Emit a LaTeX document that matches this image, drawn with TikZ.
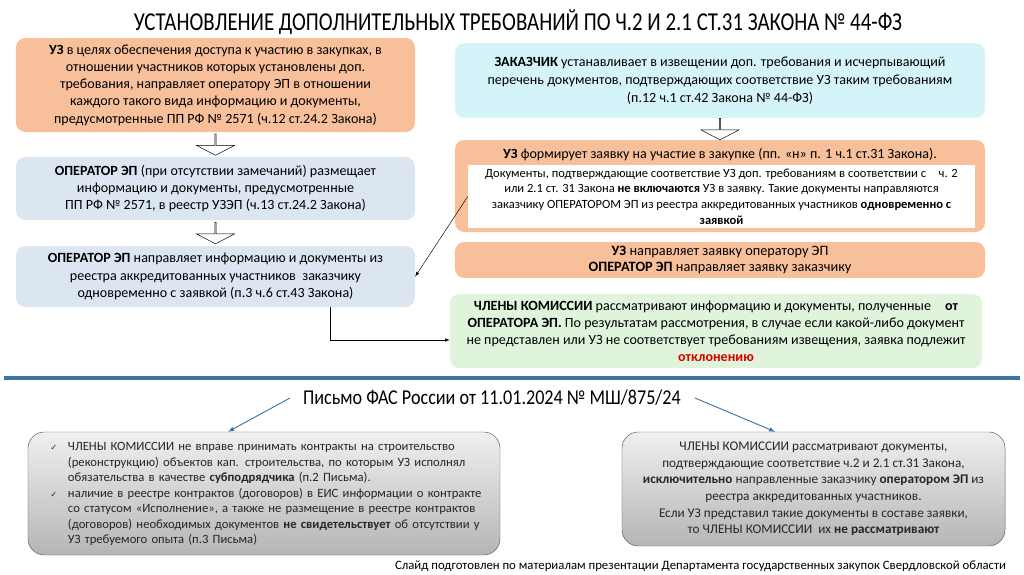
\documentclass[tikz,border=0pt]{standalone}
\usepackage{fontspec}
\setmainfont{Carlito}
\newfontfamily\titlefont[FakeStretch=0.81]{Carlito}
\newfontfamily\letterfont[FakeStretch=0.86]{Carlito}
\newfontfamily\symfont{DejaVu Sans}
\usetikzlibrary{calc, shapes.arrows, positioning}

\definecolor{peach}{HTML}{F8BF9B}
\definecolor{greyblue}{HTML}{DCE6F1}
\definecolor{skyish}{HTML}{D4F4FA}
\definecolor{mint}{HTML}{E0F4DB}
\definecolor{steel}{HTML}{3F74A3}
\definecolor{darktext}{HTML}{262626}

% строка по ширине блока
\newcommand{\jl}[1]{\makebox[\hsize][s]{#1}}
\newcommand{\chk}{\leavevmode\llap{{\symfont\scriptsize ✓}\hspace{0.32cm}}}

\begin{document}
\begin{tikzpicture}[>=latex, x=0.03cm, y=-0.03cm,
    box/.style={rounded corners=8pt, align=center, inner sep=0pt,
        font=\fontsize{12}{14.7}\selectfont},
    greybox/.style={rounded corners=14pt, draw=gray!70!black, inner sep=0pt,
        top color=gray!12, bottom color=gray!58, text=darktext,
        font=\fontsize{11.3}{14.2}\selectfont},
    hollow/.style={single arrow, draw, fill=white, inner sep=0pt,
        minimum width=1.14cm, minimum height=0.64cm,
        single arrow head extend=0.24cm, single arrow tip angle=125,
        shape border rotate=270}]
    \useasboundingbox (0,0) rectangle (1024,574);

    % Заголовок
    \node (title) at (518,22) {\titlefont\fontsize{22}{24}\selectfont
        УСТАНОВЛЕНИЕ ДОПОЛНИТЕЛЬНЫХ ТРЕБОВАНИЙ ПО Ч.2 И 2.1 СТ.31 ЗАКОНА № 44-ФЗ};

    % Левая колонка
    \node[box, fill=peach, minimum width=11.97cm, minimum height=2.82cm] (uz) at (215.5,85)
        {\textbf{УЗ} в целях обеспечения доступа к участию в закупках, в\\
         отношении участников которых установлены доп.\\
         требования, направляет оператору ЭП в отношении\\
         каждого такого вида информацию и документы,\\
         предусмотренные ПП РФ № 2571 (ч.12 ст.24.2 Закона)};
    \node[box, fill=greyblue, minimum width=11.97cm, minimum height=1.89cm] (oper) at (215.5,188.5)
        {\textbf{ОПЕРАТОР ЭП} (при отсутствии замечаний) размещает\\
         информацию и документы, предусмотренные\\
         ПП РФ № 2571, в реестр УЗЭП (ч.13 ст.24.2 Закона)};
    \node[box, fill=greyblue, minimum width=11.97cm, minimum height=1.83cm] (send) at (215.5,276.5)
        {\textbf{ОПЕРАТОР ЭП} направляет информацию и документы из\\
         реестра аккредитованных участников\ \ заказчику\\
         одновременно с заявкой (п.3 ч.6 ст.43 Закона)};

    % Правая колонка
    \node[box, fill=skyish, minimum width=15.9cm, minimum height=2.25cm,
        font=\fontsize{12}{15.4}\selectfont] (cust) at (720,80.5)
        {\textbf{ЗАКАЗЧИК} устанавливает в извещении доп. требования и исчерпывающий\\
         перечень документов, подтверждающих соответствие УЗ таким требованиям\\
         (п.12 ч.1 ст.42 Закона № 44-ФЗ)};
    \node[box, fill=peach, minimum width=15.9cm, minimum height=2.76cm] (bid) at (720,186) {};
    \node[font=\fontsize{12}{14}\selectfont] (bidtitle) at (720,155)
        {\textbf{УЗ} формирует заявку на участие в закупке (пп. «н» п. 1 ч.1 ст.31 Закона).};
    \node[fill=white, align=center, inner sep=0pt, minimum width=15.21cm, minimum height=1.89cm,
        font=\fontsize{10.7}{13.4}\selectfont] (note) at (721.5,196.5)
        {Документы, подтверждающие соответствие УЗ доп. требованиям в соответствии с\quad ч. 2\\
         или 2.1 ст. 31 Закона \textbf{не включаются} УЗ в заявку. Такие документы направляются\\
         заказчику ОПЕРАТОРОМ ЭП из реестра аккредитованных участников \textbf{одновременно с}\\
         \textbf{заявкой}};
    \node[box, fill=peach, minimum width=15.9cm, minimum height=1.08cm,
        font=\fontsize{12.2}{14}\selectfont] (route) at (720,260)
        {\textbf{УЗ} направляет заявку оператору ЭП\\
         \textbf{ОПЕРАТОР ЭП} направляет заявку заказчику};
    \node[box, fill=mint, minimum width=15.96cm, minimum height=2.22cm,
        font=\fontsize{12}{14.6}\selectfont] (comm) at (716,331)
        {\textbf{ЧЛЕНЫ КОМИССИИ} рассматривают информацию и документы, полученные\quad\textbf{от}\\
         \textbf{ОПЕРАТОРА ЭП.} По результатам рассмотрения, в случае если какой-либо документ\\
         не представлен или УЗ не соответствует требованиям извещения, заявка подлежит\\
         \textcolor{red!85!black}{\textbf{отклонению}}};

    % Полые стрелки
    \foreach \a/\b in {uz/oper, oper/send, cust/bid}
        \node[hollow] at ($(\a.south)!0.5!(\b.north)$) {};

    \draw[->] (note.west) -- (send.east);
    \draw[->] ([xshift=3.45cm]send.south) |- ([yshift=-0.27cm]comm.west);

    % Разделитель
    \draw[steel, line width=2.6pt] (4,378) -- (1020,378);

    % Письмо ФАС
    \node (letter) at (492,398) {\letterfont\fontsize{18}{20}\selectfont
        Письмо ФАС России от 11.01.2024 № МШ/875/24};
    \node[greybox, minimum width=14.16cm, minimum height=3.69cm] (leftbox) at (264,493.5) {};
    \node[text width=12.45cm, align=left, inner sep=0pt, text=darktext,
        font=\fontsize{10.8}{13.2}\selectfont] (lefttext) at (275.5,494)
        {\chk\jl{ЧЛЕНЫ КОМИССИИ не вправе принимать контракты на строительство}\\
         \jl{(реконструкцию) объектов кап. строительства, по которым УЗ исполнял}\\
         обязательства в качестве \textbf{субподрядчика} (п.2 Письма).\\
         \chk\jl{наличие в реестре контрактов (договоров) в ЕИС информации о контракте}\\
         \jl{со статусом «Исполнение», а также не размещение в реестре контрактов}\\
         \jl{(договоров) необходимых документов \textbf{не свидетельствует} об отсутствии у}\\
         УЗ требуемого опыта (п.3 Письма)};
    \node[greybox, align=center, minimum width=11.49cm, minimum height=3.42cm] (rightbox) at (813.5,489)
        {ЧЛЕНЫ КОМИССИИ рассматривают документы,\\
         подтверждающие соответствие ч.2 и 2.1 ст.31 Закона,\\
         \textbf{исключительно} направленные заказчику \textbf{оператором ЭП} из\\
         реестра аккредитованных участников.\\
         Если УЗ представил такие документы в составе заявки,\\
         то ЧЛЕНЫ КОМИССИИ\ \ их \textbf{не рассматривают}};

    \draw[->, steel, thick] ([xshift=-0.27cm]letter.west) -- ([xshift=-1.08cm]leftbox.north);
    \draw[->, steel, thick] ([xshift=0.3cm]letter.east) -- ([xshift=-1.15cm]rightbox.north);

    % Источник
    \node[anchor=east, font=\fontsize{10.9}{13}\selectfont] (source) at (1010,566)
        {Слайд подготовлен по материалам презентации Департамента государственных закупок Свердловской области};
\end{tikzpicture}
\end{document}
